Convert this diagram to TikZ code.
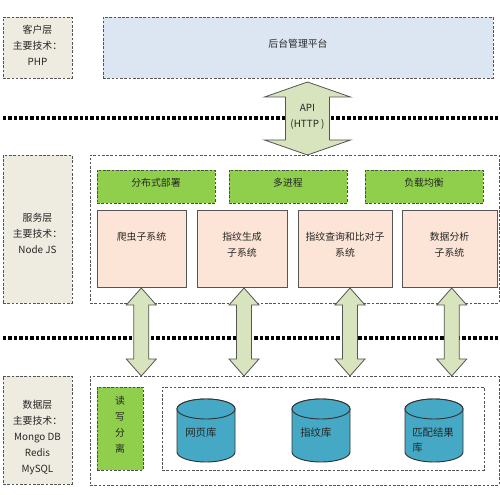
\documentclass[tikz,border=0pt]{standalone}
\usepackage{fontspec}
\setmainfont{Noto Sans CJK SC}
\usetikzlibrary{fit}
\definecolor{beige}{HTML}{EEECE1}
\definecolor{paleblue}{HTML}{DCE6F2}
\definecolor{grn}{HTML}{8FCF4C}
\definecolor{pink}{HTML}{FCE4D6}
\definecolor{arrowfill}{HTML}{D7E4BD}
\definecolor{cyl}{HTML}{45A9C6}
\definecolor{txt}{HTML}{262626}
\definecolor{edge}{HTML}{555555}
\newcommand\vdarrow[6]{% x, ytop, ybot, shaft half, head half, head length
  \draw[blockarrow] (#1,#2) -- (#1+#5,#2+#6) -- (#1+#4,#2+#6) -- (#1+#4,#3-#6)
    -- (#1+#5,#3-#6) -- (#1,#3) -- (#1-#5,#3-#6) -- (#1-#4,#3-#6)
    -- (#1-#4,#2+#6) -- (#1-#5,#2+#6) -- cycle;}
\newcommand\dbcylinder[3]{% name, cx, cy
  \node[inner sep=0pt, minimum width=43.5pt, minimum height=47.25pt] (#1) at (#2,#3) {};
  \filldraw[cylstyle] (#2-29,#3-21.5) -- (#2-29,#3+21.5)
    arc[start angle=180, end angle=0, x radius=29, y radius=10]
    -- (#2+29,#3-21.5) arc[start angle=0, end angle=-180, x radius=29, y radius=10] -- cycle;
  \draw[cylstyle] (#2,#3-21.5) ellipse[x radius=29, y radius=10];}
\tikzset{
  dashbox/.style={draw=edge, line width=0.5pt, dash pattern=on 2pt off 1.2pt, inner sep=0pt},
  lbl/.style={dashbox, fill=beige, align=center},
  outerbox/.style={dashbox},
  bluebox/.style={dashbox, fill=paleblue},
  greenbox/.style={dashbox, draw=black!70, fill=grn, align=center},
  pinkbox/.style={draw=edge, line width=0.6pt, fill=pink, inner sep=0pt, align=center},
  dotline/.style={line width=2.5pt, dash pattern=on 2.6pt off 1.5pt, black},
  blockarrow/.style={draw=edge, line width=0.6pt, fill=arrowfill, line join=miter},
  cylstyle/.style={draw=black!80, line width=0.7pt, fill=cyl},
  plain/.style={align=center, inner sep=0pt},
  cyltxt/.style={anchor=west, align=left, inner sep=0pt, font=\fontsize{7.8}{11.5}\selectfont}
}
\begin{document}
\begin{tikzpicture}[x=0.75pt, y=-0.75pt, font=\fontsize{7.4}{12}\selectfont, text=txt]
\useasboundingbox (0,0) rectangle (500,495);
\fill[white] (0,0) rectangle (500,495);

% separator lines
\coordinate (d1l) at (3,118); \coordinate (d1r) at (500,118);
\coordinate (d2l) at (3,338); \coordinate (d2r) at (500,338);
\draw[dotline] (d1l) -- (d1r);
\draw[dotline] (d2l) -- (d2r);

% client layer
\node[lbl, fit={(3,17) (72,78)}] (client) {};
\node[plain] (clienttxt) at (37.5,45.5) {客户层\\主要技术：\\PHP};
\node[bluebox, fit={(103,17) (493,78)}] (admin) {后台管理平台};

% service layer
\node[lbl, fit={(3,155) (72,303)}] (svc) {};
\node[plain] (svctxt) at (37.5,233) {服务层\\主要技术：\\Node JS};
\node[outerbox, fit={(90,155) (499,303)}] (svcbox) {};
\node[greenbox, fit={(97,170) (215,203)}] (g1) {分布式部署};
\node[greenbox, fit={(229,170) (347,203)}] (g2) {多进程};
\node[greenbox, fit={(365,170) (483,203)}] (g3) {负载均衡};
\node[pinkbox, fit={(97,210) (186,287)}] (p1) {爬虫子系统\\\mbox{}};
\node[pinkbox, fit={(197,210) (287,287)}] (p2) {指纹生成\\子系统};
\node[pinkbox, fit={(298,210) (392,287)}] (p3) {指纹查询和比对子\\系统};
\node[pinkbox, fit={(402,210) (497,287)}] (p4) {数据分析\\子系统};

% data layer
\node[lbl, fit={(3,376) (72,484)}] (data) {};
\node[plain] (datatxt) at (37.5,438) {数据层\\主要技术：\\Mongo DB\\Redis\\MySQL};
\node[outerbox, fit={(90,376) (499,485)}] (databox) {};
\node[greenbox, fit={(97,387) (143,470)}] (rw) {读\\写\\分\\离};
\node[outerbox, fit={(162,387) (484,470)}] (dbbox) {};
\dbcylinder{c1}{206}{430.5}
\dbcylinder{c2}{321}{430.5}
\dbcylinder{c3}{434}{430.5}
\node[cyltxt] (t1) at (185,433) {网页库};
\node[cyltxt] (t2) at (300,433) {指纹库};
\node[cyltxt] (t3) at (412,440) {匹配结果\\库};

% block arrows
\vdarrow{307.5}{82}{155}{22}{43}{15}
\node[plain] (api) at (307.5,117) {API\\(HTTP )};
\vdarrow{141.3}{288}{376}{7.5}{15}{17}
\vdarrow{244}{288}{376}{7.5}{15}{17}
\vdarrow{350}{288}{376}{7.5}{15}{17}
\vdarrow{451.7}{288}{376}{7.5}{15}{17}
\end{tikzpicture}
\end{document}
